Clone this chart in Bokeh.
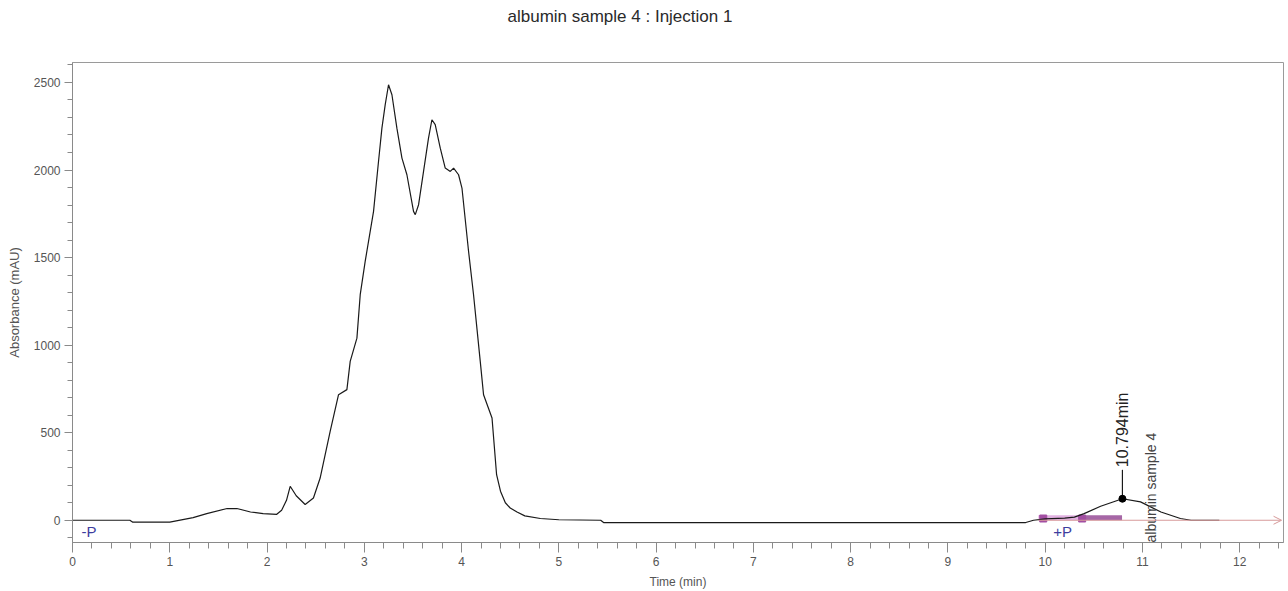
import math
from bokeh.plotting import figure
from bokeh.models import SingleIntervalTicker, Range1d, Arrow, OpenHead, Title
from bokeh.core.properties import value
from bokeh.embed import file_html
from bokeh.resources import INLINE

# ---------------- data ----------------
time_min = [0.0, 0.59, 0.62, 1.0, 1.24, 1.38, 1.59, 1.69, 1.83, 1.96, 2.10, 2.15, 2.20,
            2.238, 2.30, 2.392, 2.477, 2.546, 2.649, 2.735, 2.821, 2.855, 2.924, 2.958,
            3.009, 3.095, 3.146, 3.181, 3.215, 3.249, 3.284, 3.335, 3.387, 3.438, 3.506,
            3.524, 3.558, 3.609, 3.660, 3.695, 3.729, 3.781, 3.832, 3.884, 3.918, 3.969,
            4.004, 4.072, 4.123, 4.192, 4.226, 4.313, 4.36, 4.40, 4.45, 4.50, 4.57, 4.65,
            4.81, 5.0, 5.43, 5.46, 9.80, 9.88, 10.0, 10.2, 10.30, 10.40, 10.57, 10.794,
            10.98, 11.19, 11.39, 11.5, 11.79]
absorbance = [0, 0, -11, -11, 15, 38, 67, 67, 47, 38, 34, 57, 114,
              194, 140, 90, 127, 241, 508, 717, 746, 907, 1040, 1288,
              1478, 1764, 2049, 2239, 2373, 2487, 2430, 2239, 2068, 1973, 1764,
              1745, 1802, 1992, 2182, 2287, 2259, 2125, 2011, 1992, 2011, 1973,
              1897, 1535, 1288, 907, 717, 584, 260, 166, 100, 70, 47, 25,
              10, 3, 0, -13, -13, 0, 8, 12, 18, 38, 80, 123,
              105, 47, 10, 0, 0]

peak_time = [10.794]
peak_abs = [123]
peak_label = ["10.794min"]

baseline_t = [9.93, 12.43]
baseline_a = [0, 0]

event_light_t = [9.93, 10.38]
event_dark_t = [10.38, 10.79]
event_a = [14, 14]
event_marker_t = [9.98, 10.38]
event_marker_a = [10, 10]

peak_name_t = [11.085]
peak_name_a = [-127]
peak_name = ["albumin sample 4"]

marker_t = [0.17, 10.18]
marker_a = [-63, -63]
marker_text = ["-P", "+P"]

title_text = "albumin sample 4 : Injection 1"

x_tick_interval = 1
y_tick_interval = 500

FONT = "Liberation Sans"

# ---------------- figure ----------------
p = figure(width=1288, height=591, output_backend="svg", toolbar_location=None,
           x_range=Range1d(0, 12.45), y_range=Range1d(-127, 2614),
           min_border_left=72, min_border_right=5, min_border_top=62, min_border_bottom=49)

# spacer panel between the frame and the title (nearest the frame)
p.add_layout(Title(text=" ", text_font=FONT, text_font_size="15px", standoff=18), "above")

p.title.text = title_text
p.title.align = "left"
p.title.offset = 435
p.title.standoff = 0
p.title.text_font = FONT
p.title.text_font_size = "17px"
p.title.text_font_style = "normal"
p.title.text_color = "#2a2a2a"

p.grid.visible = False
p.outline_line_color = "#9a9a9a"
p.background_fill_color = "white"
p.border_fill_color = "white"

p.xaxis.ticker = SingleIntervalTicker(interval=x_tick_interval, num_minor_ticks=5)
p.yaxis.ticker = SingleIntervalTicker(interval=y_tick_interval, num_minor_ticks=5)

for ax in (p.xaxis, p.yaxis):
    ax.axis_line_color = "#8a8a8a"
    ax.major_tick_line_color = "#8a8a8a"
    ax.minor_tick_line_color = "#8a8a8a"
    ax.major_tick_in = 0
    ax.minor_tick_in = 0
    ax.major_label_text_font = FONT
    ax.major_label_text_font_size = "12px"
    ax.major_label_text_color = "#555555"
    ax.axis_label_text_font = FONT
    ax.axis_label_text_font_style = "normal"
    ax.axis_label_text_color = "#555555"

p.xaxis.major_tick_out = 10
p.xaxis.minor_tick_out = 6
p.xaxis.major_label_standoff = 4
p.xaxis.axis_label = "Time (min)"
p.xaxis.axis_label_text_font_size = "12px"
p.xaxis.axis_label_standoff = 6

p.yaxis.major_tick_out = 8
p.yaxis.minor_tick_out = 5
p.yaxis.major_label_standoff = 4
p.yaxis.axis_label = "Absorbance (mAU)"
p.yaxis.axis_label_text_font_size = "13px"
p.yaxis.axis_label_standoff = 9

# baseline arrow (integration baseline)
p.add_layout(Arrow(end=OpenHead(size=8, line_color="#d79a9a", line_width=1),
                   x_start=baseline_t[0], y_start=baseline_a[0],
                   x_end=baseline_t[1], y_end=baseline_a[1],
                   line_color="#d79a9a", line_width=1))

# integration events
p.line(event_light_t, event_a, line_width=5, line_color="#dfaadf", line_alpha=0.9)
p.line(event_dark_t, event_a, line_width=5, line_color="#9c569c", line_alpha=0.9)
p.scatter(event_marker_t, event_marker_a, marker="square", size=7,
          fill_color="#a24ea2", line_color="#a24ea2")

# chromatogram
p.line(time_min, absorbance, line_color="#1a1a1a", line_width=1.2)

# peak marker and label
p.segment(x0=peak_time, y0=peak_abs, x1=peak_time, y1=[a + 165 for a in peak_abs],
          line_color="#1a1a1a", line_width=1.2)
p.scatter(peak_time, peak_abs, size=7, fill_color="black", line_color="black")
p.text(x=peak_time, y=[a + 180 for a in peak_abs], text=peak_label,
       angle=math.pi / 2, text_align="left", text_baseline="middle",
       text_font=value(FONT), text_font_size="16px", text_color="#222222")

p.text(x=peak_name_t, y=peak_name_a, text=peak_name,
       angle=math.pi / 2, text_align="left", text_baseline="middle",
       text_font=value(FONT), text_font_size="14px", text_color="#444444")

p.text(x=marker_t, y=marker_a, text=marker_text,
       text_align="center", text_baseline="middle",
       text_font=value(FONT), text_font_size="15px", text_color="#3d3d9e")

open("out.html", "w").write(file_html(p, INLINE))
